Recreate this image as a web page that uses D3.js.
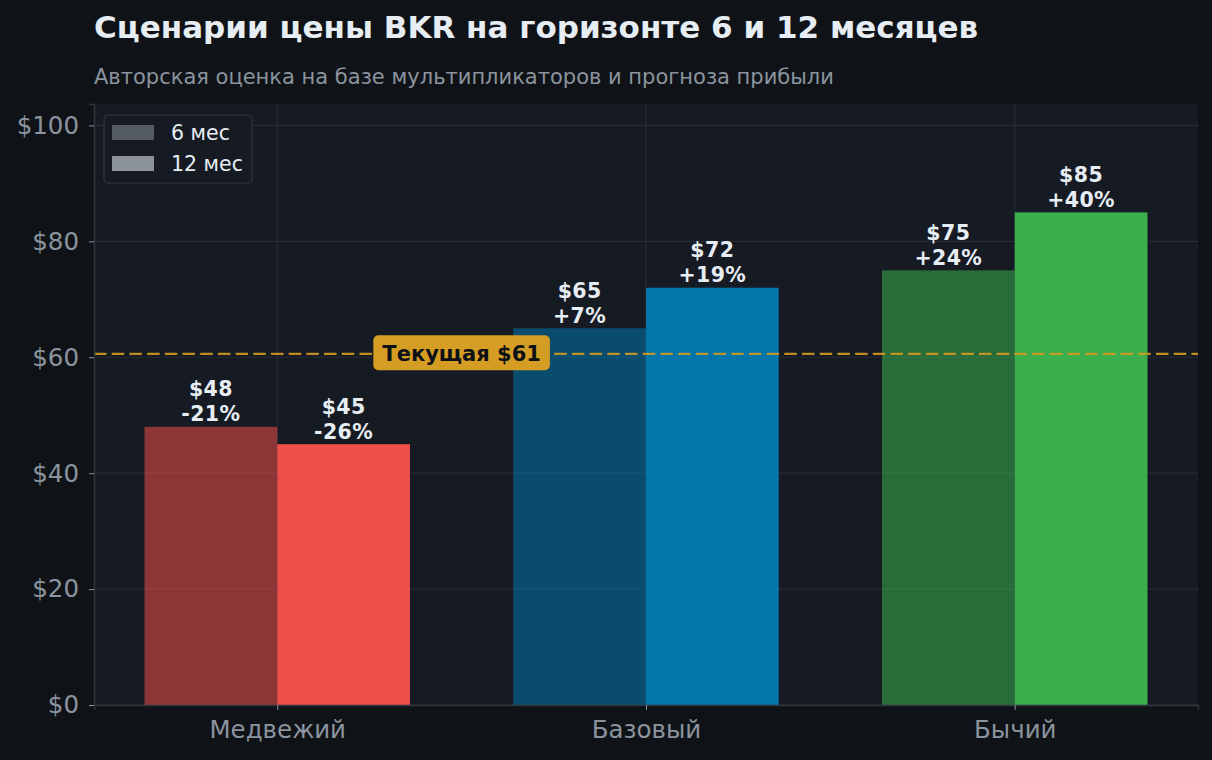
<!DOCTYPE html>
<html>
<head>
<meta charset="utf-8">
<script src="https://cdn.jsdelivr.net/npm/d3@7"></script>
<style>
  body { margin: 0; background: #0f1317; }
  svg { display: block; font-family: "DejaVu Sans", sans-serif; }
</style>
</head>
<body>
<div id="chart"></div>
<script>
// data
var scenarios = ["Медвежий", "Базовый", "Бычий"];
var horizons = ["6 мес", "12 мес"];
var price6m = [48, 65, 75];
var price12m = [45, 72, 85];
var currentPrice = 60.6;
var yTicks = [0, 20, 40, 60, 80, 100];

var colors12 = ["#ee4f4a", "#0276ab", "#3dae4e"];
var legendColors = ["#8b929c", "#8b929c"];

var svgWidth = 1212;
var svgHeight = 760;

var margin = { top: 104, right: 14, bottom: 55, left: 94 };
var width = svgWidth - margin.left - margin.right;
var height = svgHeight - margin.top - margin.bottom;

var svg = d3.select("#chart")
  .append("svg")
  .attr("width", svgWidth)
  .attr("height", svgHeight);

svg.append("rect")
  .attr("width", svgWidth)
  .attr("height", svgHeight)
  .attr("fill", "#0f1317");

// title + subtitle
svg.append("text")
  .attr("x", 94)
  .attr("y", 38)
  .attr("fill", "#e6edf3")
  .attr("font-size", 31)
  .attr("font-weight", "bold")
  .text("Сценарии цены BKR на горизонте 6 и 12 месяцев");

svg.append("text")
  .attr("x", 94)
  .attr("y", 84)
  .attr("fill", "#8b949e")
  .attr("font-size", 21)
  .text("Авторская оценка на базе мультипликаторов и прогноза прибыли");

var chartGroup = svg.append("g")
  .attr("transform", `translate(${margin.left}, ${margin.top})`);

chartGroup.append("rect")
  .attr("width", width)
  .attr("height", height)
  .attr("fill", "#161a23");

// scales
var xScale = d3.scaleLinear()
  .domain([-0.497, 2.497])
  .range([0, width]);

var yScale = d3.scaleLinear()
  .domain([0, 103.7])
  .range([height, 0]);

var barW = 0.36;

// grid
chartGroup.append("g")
  .selectAll("line.hgrid")
  .data(yTicks)
  .enter()
  .append("line")
  .attr("x1", 0)
  .attr("x2", width)
  .attr("y1", d => yScale(d))
  .attr("y2", d => yScale(d))
  .attr("stroke", "#262b35")
  .attr("stroke-width", 1.2);

chartGroup.append("g")
  .selectAll("line.vgrid")
  .data(scenarios)
  .enter()
  .append("line")
  .attr("x1", (d, i) => xScale(i))
  .attr("x2", (d, i) => xScale(i))
  .attr("y1", 0)
  .attr("y2", height)
  .attr("stroke", "#262b35")
  .attr("stroke-width", 1.2);

// bars
var plot = chartGroup.append("g");

plot.selectAll("rect.b6")
  .data(price6m)
  .enter()
  .append("rect")
  .attr("x", (d, i) => xScale(i - barW))
  .attr("y", d => yScale(d))
  .attr("width", (d, i) => xScale(i) - xScale(i - barW))
  .attr("height", d => yScale(0) - yScale(d))
  .attr("fill", (d, i) => colors12[i])
  .attr("fill-opacity", 0.55);

plot.selectAll("rect.b12")
  .data(price12m)
  .enter()
  .append("rect")
  .attr("x", (d, i) => xScale(i))
  .attr("y", d => yScale(d))
  .attr("width", (d, i) => xScale(i + barW) - xScale(i))
  .attr("height", d => yScale(0) - yScale(d))
  .attr("fill", (d, i) => colors12[i]);

// value labels
function pctLabel(v) {
  var p = Math.round((v / currentPrice - 1) * 100);
  return (p > 0 ? "+" : "") + p + "%";
}

function addLabels(values, offset) {
  var g = plot.append("g");
  values.forEach(function(v, i) {
    var cx = xScale(i + offset);
    var t = g.append("text")
      .attr("text-anchor", "middle")
      .attr("fill", "#e6edf3")
      .attr("font-size", 20.5)
      .attr("font-weight", "bold")
      .attr("letter-spacing", 0.4);
    t.append("tspan")
      .attr("x", cx)
      .attr("y", yScale(v) - 30.5)
      .text("$" + v);
    t.append("tspan")
      .attr("x", cx)
      .attr("y", yScale(v) - 5.5)
      .text(pctLabel(v));
  });
}
addLabels(price6m, -barW / 2);
addLabels(price12m, barW / 2);

// current price line
chartGroup.append("line")
  .attr("x1", 0)
  .attr("x2", width)
  .attr("y1", yScale(currentPrice))
  .attr("y2", yScale(currentPrice))
  .attr("stroke", "#d29922")
  .attr("stroke-opacity", 0.9)
  .attr("stroke-width", 2.2)
  .attr("stroke-dasharray", "12.5,5.2");

var curLabel = chartGroup.append("g")
  .attr("transform", `translate(${xScale(0.5)}, ${yScale(currentPrice)})`);

var curText = curLabel.append("text")
  .attr("text-anchor", "middle")
  .attr("dy", "0.35em")
  .attr("fill", "#0d1117")
  .attr("font-size", 21)
  .attr("font-weight", "bold")
  .text("Текущая $" + Math.round(currentPrice));

var bb = curText.node().getBBox();
curLabel.insert("rect", "text")
  .attr("x", bb.x - 9)
  .attr("y", -18.5)
  .attr("width", bb.width + 18)
  .attr("height", 35)
  .attr("rx", 5)
  .attr("fill", "#d69d24");

// axes
var leftAxis = d3.axisLeft(yScale)
  .tickValues(yTicks)
  .tickSize(5)
  .tickFormat(d => "$" + d);

var bottomAxis = d3.axisBottom(xScale)
  .tickValues([0, 1, 2])
  .tickSize(5)
  .tickFormat(d => scenarios[d]);

var yAxisG = chartGroup.append("g").call(leftAxis);
var xAxisG = chartGroup.append("g")
  .attr("transform", `translate(0, ${height})`)
  .call(bottomAxis);

[yAxisG, xAxisG].forEach(function(g) {
  g.select(".domain").attr("stroke", "#30363d").attr("stroke-width", 1.5);
  g.selectAll(".tick line").attr("stroke", "#8b949e");
  g.selectAll(".tick text")
    .attr("fill", "#8b949e")
    .attr("font-size", 24.5)
    .attr("font-family", "DejaVu Sans");
  g.attr("font-family", null);
});
yAxisG.selectAll(".tick text").attr("x", -15);
xAxisG.selectAll(".tick text").attr("y", 16);

// legend
var legend = chartGroup.append("g")
  .attr("transform", "translate(10, 11)");

legend.append("rect")
  .attr("width", 148)
  .attr("height", 68)
  .attr("rx", 4)
  .attr("fill", "#161a23")
  .attr("stroke", "#30363d")
  .attr("stroke-width", 1.2);

horizons.forEach(function(h, i) {
  legend.append("rect")
    .attr("x", 8)
    .attr("y", 10 + i * 31)
    .attr("width", 42)
    .attr("height", 15)
    .attr("fill", legendColors[i])
    .attr("fill-opacity", i === 0 ? 0.55 : 1);
  legend.append("text")
    .attr("x", 67)
    .attr("y", 24.5 + i * 31)
    .attr("fill", "#e6edf3")
    .attr("font-size", 20.5)
    .text(h);
});
</script>
</body>
</html>
